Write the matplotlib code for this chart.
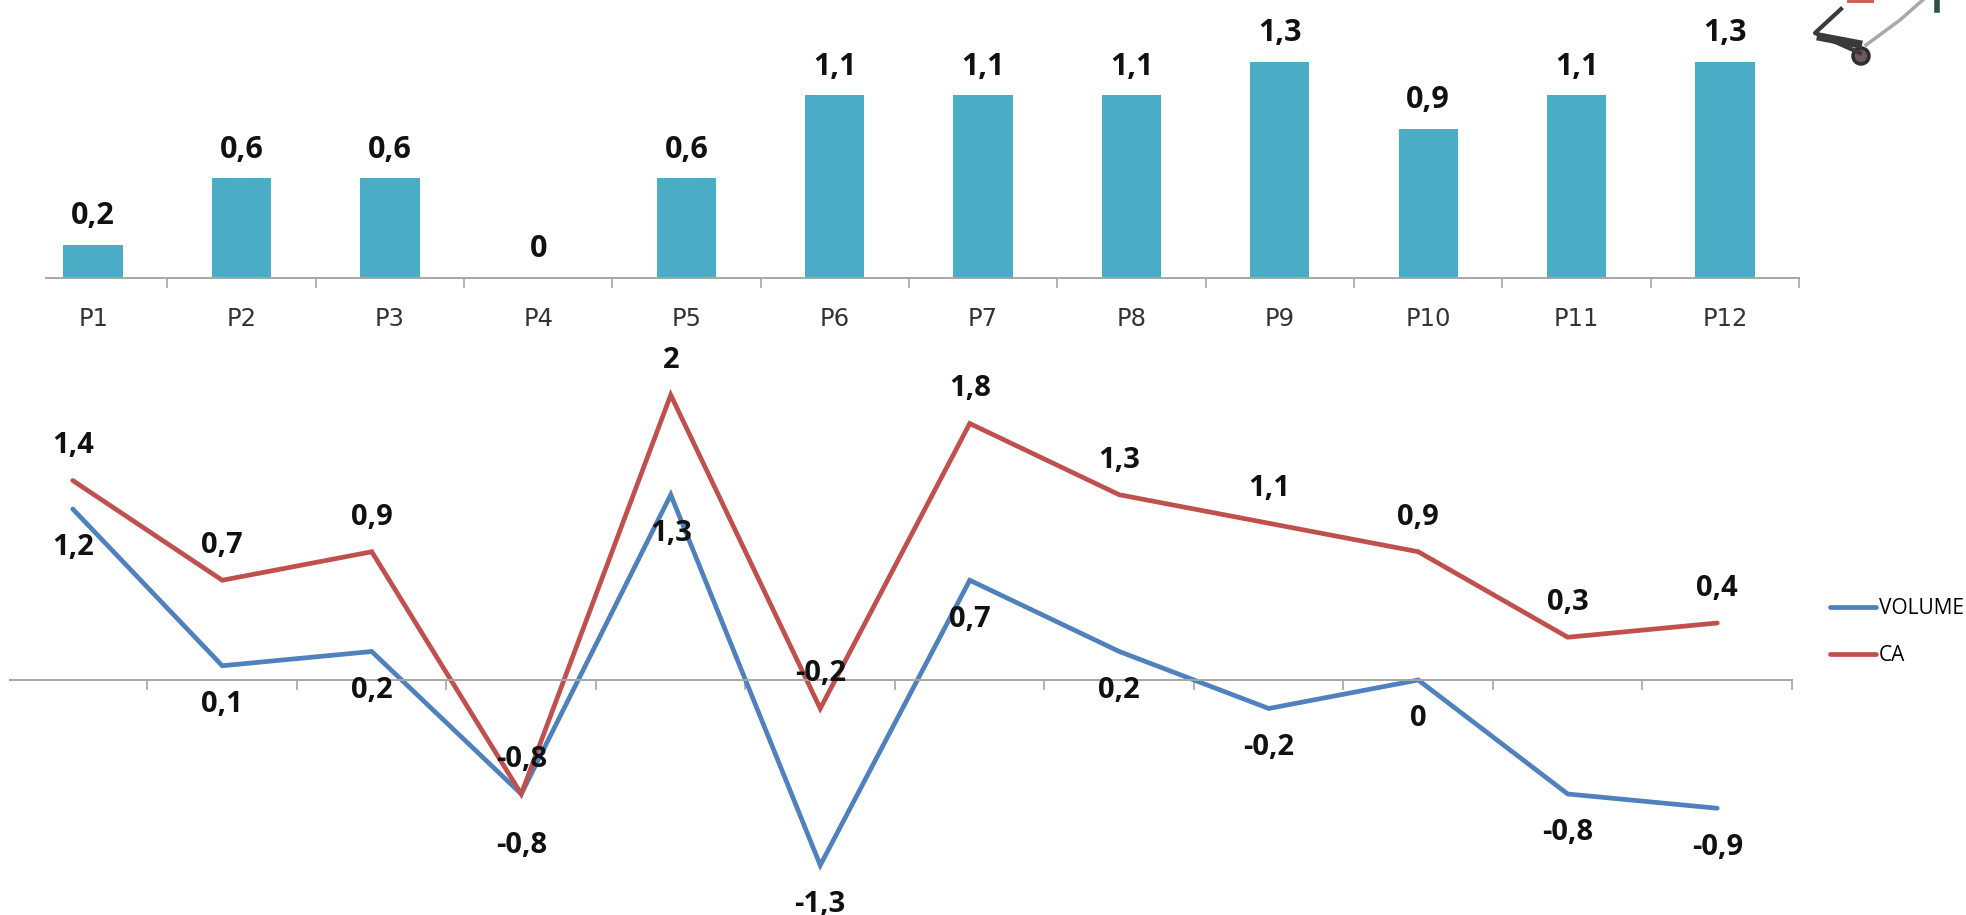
import numpy as np
from matplotlib import pyplot as plt

W, H = 1966, 915

periods = ["P1", "P2", "P3", "P4", "P5", "P6", "P7", "P8", "P9", "P10", "P11", "P12"]
bar_values = [0.2, 0.6, 0.6, 0, 0.6, 1.1, 1.1, 1.1, 1.3, 0.9, 1.1, 1.3]
volume = [1.2, 0.1, 0.2, -0.8, 1.3, -1.3, 0.7, 0.2, -0.2, 0, -0.8, -0.9]
ca = [1.4, 0.7, 0.9, -0.8, 2, -0.2, 1.8, 1.3, 1.1, 0.9, 0.3, 0.4]

BAR_COLOR = "#4BACC6"
BLUE = "#4F81BD"
RED = "#C0504D"
AXIS = "#A6A6A6"
LABEL_FONT = ["Open Sans", "DejaVu Sans"]
TICK_FONT = ["DejaVu Sans"]


def fmt(v):
    return f"{v:g}".replace(".", ",")


def px_axes(left, right, top, bottom):
    return fig.add_axes([left / W, 1 - bottom / H, (right - left) / W, (bottom - top) / H])


def clean(ax):
    for s in ["top", "left", "right"]:
        ax.spines[s].set_visible(False)
    ax.spines["bottom"].set_color(AXIS)
    ax.spines["bottom"].set_linewidth(1.4)
    ax.patch.set_alpha(0)
    ax.set_yticks([])
    ax.tick_params(axis="x", length=7, width=1.2, color=AXIS)


fig = plt.figure(figsize=(W / 100, H / 100), dpi=100, facecolor="white")
x = np.arange(12)
edges = np.arange(13) - 0.5

# top chart: bars
ax1 = px_axes(19, 1799, 40, 278)
clean(ax1)
ax1.bar(x, bar_values, width=0.4, color=BAR_COLOR)
ax1.set_xlim(-0.5, 11.5)
ax1.set_ylim(0, 238 / 166)
ax1.spines["bottom"].set_bounds(-0.32, 11.5)
ax1.set_xticks(edges[1:])
ax1.set_xticklabels([])
for i, v in enumerate(bar_values):
    ax1.annotate(fmt(v), (i, v), xytext=(0, 10), textcoords="offset points", ha="center", va="bottom",
                 fontsize=22, fontweight="bold", family=LABEL_FONT, color="#111111", annotation_clip=False)
    ax1.annotate(periods[i], (i, 0), xytext=(0, -21), textcoords="offset points", ha="center", va="top",
                 fontsize=17.5, family=TICK_FONT, color="#333333", annotation_clip=False)

# bottom chart: lines
ax2 = px_axes(-2, 1792, 380, 880)
clean(ax2)
ax2.spines["bottom"].set_position(("data", 0))
ax2.plot(x, volume, color=BLUE, lw=3.4, solid_capstyle="round", solid_joinstyle="miter", label="VOLUME")
ax2.plot(x, ca, color=RED, lw=3.4, solid_capstyle="round", solid_joinstyle="miter", label="CA")
ax2.set_xlim(-0.5, 11.5)
ax2.set_ylim(-200 / 142.5, 300 / 142.5)
ax2.spines["bottom"].set_bounds(-0.42, 11.5)
ax2.set_xticks(edges[1:])
ax2.set_xticklabels([])
for i in range(12):
    # the -0,8 of P4 sits lower than the others, clear of the red one
    below = -37 if i == 3 else -28
    ax2.annotate(fmt(volume[i]), (i, volume[i]), xytext=(0, below), textcoords="offset points", ha="center",
                 va="center", fontsize=21, fontweight="bold", family=LABEL_FONT, color="#111111",
                 annotation_clip=False)
    ax2.annotate(fmt(ca[i]), (i, ca[i]), xytext=(0, 25), textcoords="offset points", ha="center",
                 va="center", fontsize=21, fontweight="bold", family=LABEL_FONT, color="#111111",
                 annotation_clip=False)

handles, labels = ax2.get_legend_handles_labels()
fig.legend(handles, labels, loc="upper left", bbox_to_anchor=(1830 / W, 1 - 598 / H), frameon=False,
           prop={"family": "Open Sans", "size": 15}, handlelength=2.2, handletextpad=0.15,
           labelspacing=1.25, borderpad=0, borderaxespad=0)

# shopping trolley in the top right corner, cut off by the image edge
ov = fig.add_axes([0, 0, 1, 1], zorder=5)
ov.set_xlim(0, W)
ov.set_ylim(H, 0)
ov.axis("off")
ov.plot([1841, 1815, 1860], [9, 33, 53], color="#3A3A3A", lw=3)
ov.plot([1821, 1858], [37, 44], color="#3A3A3A", lw=6)
ov.plot([1866, 1900, 1925], [45, 20, -2], color="#A8A8A8", lw=2.5)
ov.plot([1937, 1937], [-2, 10], color="#2F4F45", lw=4)
ov.plot([1850, 1870], [-1, -1], color="#D06050", lw=5)
ov.add_patch(plt.Circle((1861, 56), 8, facecolor="#6B5A5E", edgecolor="#2E2E2E", lw=2.5))

fig.savefig("out.png", dpi=100)
